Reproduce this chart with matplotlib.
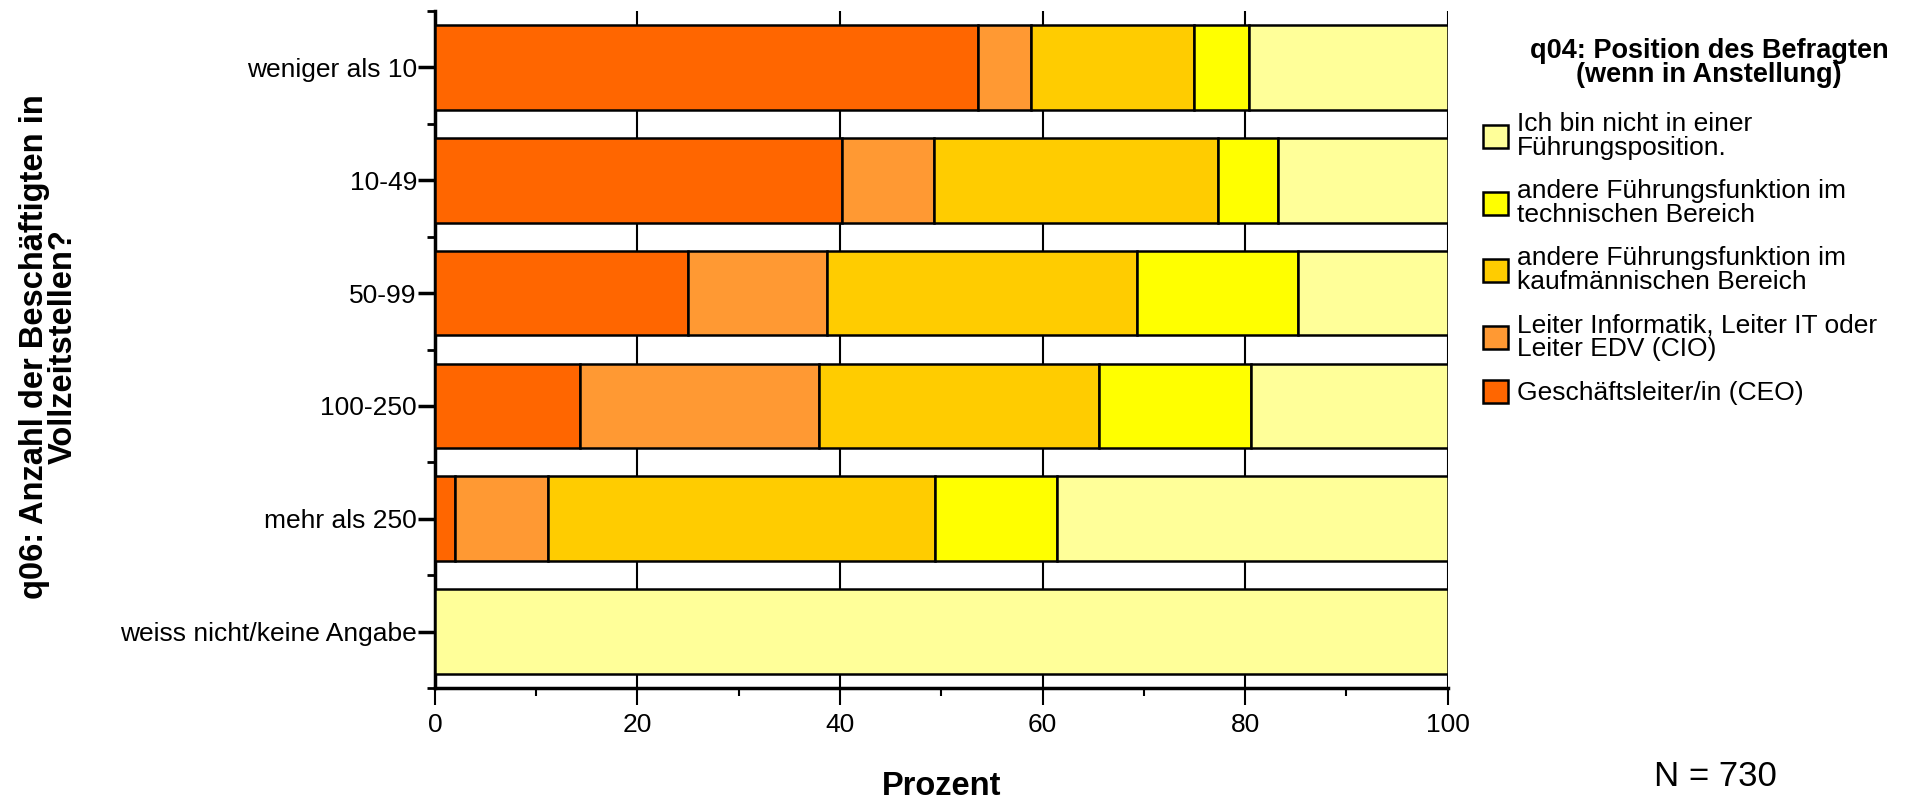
import matplotlib.pyplot as plt
from matplotlib.patches import Patch
from matplotlib.ticker import MultipleLocator, FixedLocator

plt.rcParams['font.family'] = ['Liberation Sans', 'DejaVu Sans']

# ----- data (percent per row) -----
categories = ["weniger als 10", "10-49", "50-99", "100-250", "mehr als 250",
              "weiss nicht/keine Angabe"]
ceo = [53.6, 40.2, 25.0, 14.3, 2.0, 0.0]
cio = [5.3, 9.1, 13.7, 23.6, 9.2, 0.0]
kaufm = [16.1, 28.0, 30.6, 27.7, 38.2, 0.0]
techn = [5.4, 6.0, 15.9, 15.0, 12.0, 0.0]
keine = [19.6, 16.7, 14.8, 19.4, 38.6, 100.0]

series_labels = ["Geschäftsleiter/in (CEO)",
                 "Leiter Informatik, Leiter IT oder\nLeiter EDV (CIO)",
                 "andere Führungsfunktion im\nkaufmännischen Bereich",
                 "andere Führungsfunktion im\ntechnischen Bereich",
                 "Ich bin nicht in einer\nFührungsposition."]
colors = ["#FF6600", "#FF9933", "#FFCC00", "#FFFF00", "#FFFF99"]

fig = plt.figure(figsize=(19.17, 8.02), dpi=100)
ax = fig.add_axes([0.2269, 0.1421, 0.5282, 0.8441])

y = list(range(len(categories)))
left = [0.0] * len(categories)
handles = []
for vals, col, lab in zip([ceo, cio, kaufm, techn, keine], colors, series_labels):
    ax.barh(y, vals, left=left, height=0.75, color=col, edgecolor="black",
            linewidth=1.8, zorder=3)
    left = [l + v for l, v in zip(left, vals)]
    handles.append(Patch(facecolor=col, edgecolor="black", linewidth=1.8, label=lab))

ax.set_xlim(0, 100)
ax.set_ylim(len(categories) - 0.5, -0.5)
ax.set_yticks(y)
ax.set_yticklabels(categories, fontsize=19)
ax.yaxis.set_minor_locator(FixedLocator([i - 0.5 for i in range(len(categories) + 1)]))
ax.xaxis.set_major_locator(MultipleLocator(20))
ax.xaxis.set_minor_locator(MultipleLocator(10))
ax.tick_params(axis="x", which="major", length=12, width=1.5, labelsize=19, pad=6)
ax.tick_params(axis="x", which="minor", length=6, width=1.5)
ax.tick_params(axis="y", which="major", length=12, width=2.5, pad=1)
ax.tick_params(axis="y", which="minor", length=6, width=2)

ax.set_axisbelow(True)
ax.grid(axis="x", which="major", color="black", linewidth=1.5)
for s in ["top", "right"]:
    ax.spines[s].set_visible(False)
for s in ["left", "bottom"]:
    ax.spines[s].set_linewidth(2.5)

ax.set_xlabel("Prozent", fontsize=23.5, fontweight="bold")
ax.xaxis.set_label_coords(0.5, -0.146)
ax.xaxis.label.set_va("center")
ax.set_ylabel("q06: Anzahl der Beschäftigten in\nVollzeitstellen?", fontsize=23.5,
              fontweight="bold", linespacing=0.9)
ax.yaxis.set_label_coords(-0.381, 0.505)
ax.yaxis.label.set_va("center")

# legend (reversed order as in the original)
fig.text(1709 / 1917, 1 - 63 / 802, "q04: Position des Befragten\n(wenn in Anstellung)",
         ha="center", va="center", fontsize=19.5, fontweight="bold", linespacing=0.95)
leg = fig.legend(handles[::-1], [h.get_label() for h in handles[::-1]],
                 loc="upper left", bbox_to_anchor=(1483 / 1917, 1 - 112 / 802),
                 frameon=False, fontsize=19, handlelength=0.95, handleheight=0.95,
                 handletextpad=0.35, labelspacing=0.72, borderpad=0, borderaxespad=0)
for t in leg.get_texts():
    t.set_linespacing(1.0)

fig.text(1715 / 1917, 1 - 777 / 802, "N = 730", ha="center", va="center", fontsize=25)

fig.savefig("out.png", dpi=100)
